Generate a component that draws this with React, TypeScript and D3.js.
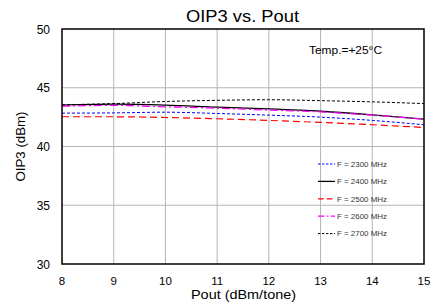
import React from 'react';
import * as d3 from 'd3';

const pout = [8, 9, 10, 11, 12, 13, 14, 15];
const oip3_2300 = [42.84, 42.86, 42.92, 42.81, 42.67, 42.5, 42.22, 41.85];
const oip3_2400 = [43.52, 43.6, 43.52, 43.35, 43.2, 43.0, 42.7, 42.33];
const oip3_2500 = [42.53, 42.53, 42.47, 42.36, 42.22, 42.05, 41.85, 41.62];
const oip3_2600 = [43.43, 43.5, 43.38, 43.26, 43.1, 42.95, 42.67, 42.33];
const oip3_2700 = [43.55, 43.65, 43.83, 43.93, 43.98, 43.9, 43.8, 43.65];
const xTicks = [8, 9, 10, 11, 12, 13, 14, 15];
const yTicks = [30, 35, 40, 45, 50];

const series = [
  { name: 'F = 2300 MHz', values: oip3_2300, color: '#0000ff', dash: '3,2', width: 1 },
  { name: 'F = 2400 MHz', values: oip3_2400, color: '#000000', dash: '', width: 1.3 },
  { name: 'F = 2500 MHz', values: oip3_2500, color: '#ff0000', dash: '7,4', width: 1.2 },
  { name: 'F = 2600 MHz', values: oip3_2600, color: '#ff00ff', dash: '8,3,2,3', width: 1.3 },
  { name: 'F = 2700 MHz', values: oip3_2700, color: '#000000', dash: '3,2', width: 1 },
];

const App = () => {
  const W = 438, H = 305;
  const margin = { top: 29, right: 14, bottom: 41, left: 62 };
  const width = W - margin.left - margin.right;
  const height = H - margin.top - margin.bottom;

  const x = d3.scaleLinear().domain([8, 15]).range([0, width]);
  const y = d3.scaleLinear().domain([30, 50]).range([height, 0]);

  const line = d3
    .line<number>()
    .x((d, i) => x(pout[i]))
    .y((d) => y(d))
    .curve(d3.curveMonotoneX);

  const font = 'Liberation Sans, Arial, sans-serif';

  return (
    <svg width={W} height={H} style={{ position: 'absolute', left: 0, top: 0, fontFamily: font }}>
      <text x={186} y={22} fontSize={16} fill="#000" textLength={113} lengthAdjust="spacingAndGlyphs">
        OIP3 vs. Pout
      </text>
      <g transform={`translate(${margin.left},${margin.top})`}>
        {xTicks.slice(1, -1).map((t) => (
          <line key={'gx' + t} x1={x(t)} x2={x(t)} y1={0} y2={height} stroke="#b4b4b4" strokeWidth={1} />
        ))}
        {yTicks.slice(1, -1).map((t) => (
          <line key={'gy' + t} x1={0} x2={width} y1={y(t)} y2={y(t)} stroke="#b4b4b4" strokeWidth={1} />
        ))}
        {series.map((s) => (
          <path
            key={s.name}
            d={line(s.values) || ''}
            fill="none"
            stroke={s.color}
            strokeWidth={s.width}
            strokeDasharray={s.dash || undefined}
          />
        ))}
        <rect x={0} y={0} width={width} height={height} fill="none" stroke="#000" strokeWidth={1.5} />
        {xTicks.map((t) => (
          <text key={'xt' + t} x={x(t)} y={height + 21} textAnchor="middle" fontSize={11.5} fill="#000">
            {t}
          </text>
        ))}
        {yTicks.map((t) => (
          <text key={'yt' + t} x={-12} y={y(t) + 4.5} textAnchor="end" fontSize={12} fill="#000">
            {t}
          </text>
        ))}
        <text
          x={191 - margin.left}
          y={height + 35}
          fontSize={13}
          fill="#000"
          textLength={105}
          lengthAdjust="spacingAndGlyphs"
        >
          Pout (dBm/tone)
        </text>
        <text
          transform={`translate(${25 - margin.left},${height / 2}) rotate(-90)`}
          x={-35}
          fontSize={13}
          fill="#000"
          textLength={70}
          lengthAdjust="spacingAndGlyphs"
        >
          OIP3 (dBm)
        </text>
        <text x={309 - margin.left} y={25} fontSize={10} fill="#000" textLength={73} lengthAdjust="spacingAndGlyphs">
          Temp.=+25°C
        </text>
        {series.map((s, i) => {
          const ly = 135 + i * 17.4;
          return (
            <g key={'lg' + s.name}>
              <line
                x1={256}
                x2={273}
                y1={ly}
                y2={ly}
                stroke={s.color}
                strokeWidth={s.width}
                strokeDasharray={s.dash ? s.dash.split(',').map((v) => +v * 0.8).join(',') : undefined}
              />
              <text
                x={275}
                y={ly + 2.7}
                fontSize={7.5}
                fill="#333"
                textLength={50}
                lengthAdjust="spacingAndGlyphs"
              >
                {s.name}
              </text>
            </g>
          );
        })}
      </g>
    </svg>
  );
};

export default App;
